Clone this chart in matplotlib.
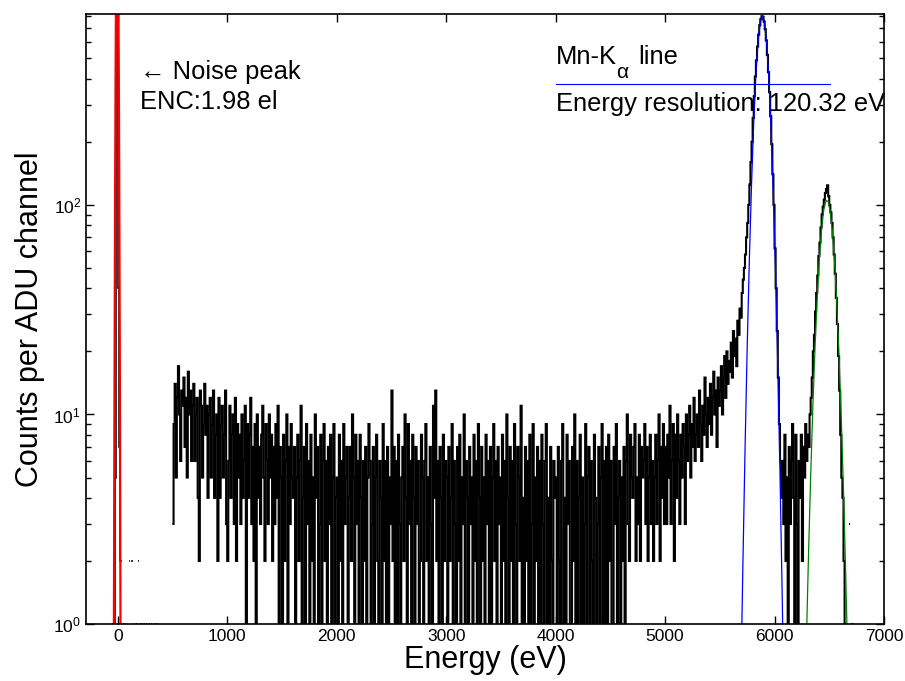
import numpy as np
import matplotlib
matplotlib.use("Agg")
from matplotlib import pyplot as plt
from matplotlib.ticker import NullLocator

## Input ------------------------------------------------------------------
bin_width = 10.0  # eV per channel
noise_start = -60.0  # centre of first bin of the noise-peak region
spec_start = 505.0  # centre of first bin of the spectrum

# counts around the noise peak (0 = empty bin), -60 eV ... 360 eV
noise_counts = [0, 1, 1, 1, 5, 800, 3000, 40, 7, 2, 0, 1, 1, 0, 1, 0, 0, 2,
                0, 2, 0, 1, 0, 1, 0, 2, 0, 1, 1, 0, 1, 0, 1, 0, 0, 1, 0, 1,
                0, 0, 1, 0, 1]

# spectrum counts, 505 eV ... 6715 eV
counts_low = [3, 9, 14, 5, 12, 17, 10, 6, 13, 11,
              15, 7, 12, 5, 16, 10, 13, 6, 11, 14,
              6, 10, 12, 4, 2, 13, 11, 5, 9, 14,
              8, 11, 4, 10, 12, 5, 9, 13, 4, 8,
              10, 2, 12, 4, 9, 11, 5, 8, 13, 3,
              2, 6, 11, 4, 8, 10, 3, 12, 2, 9,
              5, 8, 3, 10, 4, 6, 11, 1, 9, 4,
              8, 12, 3, 7, 2, 9, 1, 10, 4, 7,
              3, 8, 11, 5, 2, 9, 6, 3, 10, 5,
              8, 2, 7, 3, 9, 4, 11, 1, 7, 5,
              1, 8, 2, 6, 10, 1, 7, 3, 9, 5,
              4, 7, 1, 5, 8, 2, 6, 11, 1, 4,
              7, 1, 9, 3, 6, 1, 8, 2, 5, 1,
              10, 4, 7, 1, 3, 8, 1, 6, 9, 2,
              6, 1, 7, 3, 8, 1, 5, 9, 1, 4]
counts_mid = [5, 1, 8, 2, 6, 1, 9, 3, 5, 7,
              1, 4, 7, 2, 10, 5, 1, 8, 3, 6,
              1, 8, 4, 1, 6, 2, 7, 1, 5, 9,
              6, 1, 3, 7, 1, 5, 8, 2, 1, 6,
              4, 1, 9, 2, 6, 1, 7, 1, 5, 3,
              13, 2, 7, 1, 6, 1, 8, 3, 1, 5,
              7, 2, 10, 4, 1, 9, 3, 6, 1, 8,
              4, 1, 7, 3, 6, 1, 2, 8, 5, 1,
              6, 9, 2, 5, 1, 7, 3, 1, 11, 4,
              13, 2, 6, 1, 7, 4, 1, 8, 2, 6,
              5, 1, 7, 2, 4, 9, 1, 6, 3, 1,
              7, 2, 8, 1, 5, 3, 10, 1, 6, 4,
              1, 7, 3, 5, 1, 8, 2, 6, 1, 9,
              4, 1, 7, 2, 5, 1, 8, 3, 6, 1,
              7, 1, 5, 9, 2, 6, 1, 7, 3, 5,
              1, 8, 2, 6, 1, 10, 4, 1, 7, 2,
              6, 1, 9, 3, 1, 7, 5, 2, 11, 1,
              4, 1, 7, 2, 6, 1, 8, 1, 3, 9,
              1, 5, 2, 7, 1, 6, 1, 8, 3, 1,
              6, 9, 1, 4, 1, 7, 2, 1, 6, 4]
counts_high = [5, 1, 7, 2, 1, 6, 9, 1, 4, 1,
               8, 3, 6, 1, 1, 7, 2, 10, 1, 6,
               1, 4, 8, 1, 5, 1, 3, 9, 1, 5,
               7, 1, 6, 2, 1, 8, 4, 1, 3, 7,
               1, 5, 9, 1, 6, 1, 7, 1, 8, 2,
               6, 1, 1, 7, 3, 9, 1, 4, 6, 1,
               5, 2, 7, 1, 6, 10, 3, 2, 8, 5,
               4, 7, 9, 2, 5, 3, 8, 2, 7, 5,
               6, 9, 3, 7, 2, 5, 8, 3, 6, 2,
               5, 8, 3, 6, 10, 2, 7, 4, 9, 3,
               7, 3, 8, 5, 11, 3, 6, 9, 2, 8,
               4, 10, 6, 3, 8, 5, 9, 7, 3, 10,
               6, 8, 11, 5, 9, 7, 12, 6, 8, 10,
               7, 13, 9, 6, 11, 8, 15, 10, 7, 12,
               9, 14, 8, 12, 16, 10, 13, 7, 15, 11]
counts_ka = [13, 17, 10, 15, 19, 12, 20, 14, 18, 16,
             22, 15, 25, 19, 23, 17, 28, 24, 32, 29,
             38, 44, 50, 58, 70, 82, 100, 125, 160, 200,
             260, 330, 410, 490, 570, 650, 720, 770, 795, 790,
             750, 690, 610, 520, 430, 345, 265, 195, 140, 100,
             62, 40, 25, 15, 9, 6, 4, 6, 3, 8]
counts_kb = [2, 5, 1, 7, 3, 6, 9, 4, 1, 8,
             3, 1, 6, 4, 8, 2, 7, 5, 9, 6,
             8, 7, 10, 12, 15, 20, 24, 31, 38, 46,
             57, 66, 78, 90, 98, 106, 114, 119, 124, 110,
             100, 92, 82, 70, 58, 47, 36, 27, 19, 13,
             8, 5, 4, 2, 1, 1, 0, 0, 3, 0,
             1, 1]

# fitted curves
fit_noise_e = [-40, -35, -30, -25, -20, -15, -10, -5, 0, 5, 10, 15, 20, 25, 30]
fit_noise_y = [0.055, 1.0, 11.6, 85, 406, 1230, 2400, 3000, 2400, 1230, 406,
               85, 11.6, 1.0, 0.055]
fit_ka_e = [5690, 5710, 5730, 5750, 5770, 5790, 5810, 5830, 5850, 5870, 5890,
            5910, 5930, 5950, 5970, 5990, 6010, 6030, 6050, 6070, 6090]
fit_ka_y = [0.43, 1.81, 6.6, 20.6, 55, 126, 248, 419, 606, 752, 799, 729, 570,
            382, 220, 108, 45.8, 16.6, 5.2, 1.37, 0.31]
fit_kb_e = [6290, 6310, 6330, 6350, 6370, 6390, 6410, 6430, 6450, 6470, 6490,
            6510, 6530, 6550, 6570, 6590, 6610, 6630, 6650, 6670]
fit_kb_y = [0.78, 2.10, 5.06, 10.9, 21.0, 36.1, 55.8, 77, 95, 105, 104, 92,
            72.8, 51.6, 32.7, 18.6, 9.4, 4.3, 1.74, 0.63]

## Set up plot ------------------------------------------------------------
plt.rcParams["font.family"] = ["Liberation Sans", "DejaVu Sans"]
plt.rcParams["mathtext.fontset"] = "custom"
plt.rcParams["mathtext.rm"] = "Liberation Sans"
plt.rcParams["mathtext.it"] = "Liberation Sans:italic"
plt.rcParams["mathtext.bf"] = "Liberation Sans:bold"

W, H = 905, 681
fsize = 18.4
fig = plt.figure(figsize=(W / 100, H / 100), dpi=100)
ax = fig.add_axes([86 / W, 57 / H, 798 / W, 610 / H])


def draw_hist(start, counts, lw):
    y = np.array(counts, dtype=float)
    y[y <= 0] = np.nan  # empty channels are not drawn on a log axis
    edges = start - bin_width / 2 + bin_width * np.arange(len(y) + 1)
    ax.stairs(y, edges, baseline=None, fill=False, color="k", lw=lw)


spectrum = counts_low + counts_mid + counts_high + counts_ka + counts_kb
draw_hist(noise_start, noise_counts, 1.1)
draw_hist(spec_start, spectrum, 1.5)

ax.plot(fit_noise_e, fit_noise_y, color="red", lw=1.6)
ax.plot(fit_ka_e, fit_ka_y, color="blue", lw=0.9)
ax.plot(fit_kb_e, fit_kb_y, color="#008000", lw=0.9)

ax.set_yscale("log")
ax.set_xlim(-290, 7000)
ax.set_ylim(1, 815)
ax.set_xticks(np.arange(0, 7001, 1000))
ax.xaxis.set_minor_locator(NullLocator())
ax.tick_params(which="both", direction="in", top=True, right=True,
               labelsize=12.5, width=1)
ax.tick_params(which="major", length=6)
ax.tick_params(which="minor", length=3.5)
for s in ax.spines.values():
    s.set_linewidth(1.2)

ax.set_xlabel("Energy (eV)", fontsize=22, labelpad=1)
ax.set_ylabel("Counts per ADU channel", fontsize=22, labelpad=6)

## Annotations ------------------------------------------------------------
def fx(px):
    return (px - 86) / 798


def fy(py):
    return (624 - py) / 610


ax.text(fx(140), fy(79), "\u2190 Noise peak", transform=ax.transAxes,
        fontsize=fsize, va="baseline")
ax.text(fx(140), fy(109), "ENC:1.98 el", transform=ax.transAxes,
        fontsize=fsize, va="baseline")
ax.text(fx(556), fy(64), "Mn-K", transform=ax.transAxes,
        fontsize=fsize, va="baseline")
ax.text(fx(616), fy(78), "\u03b1", transform=ax.transAxes,
        fontsize=15, va="baseline")
ax.text(fx(638), fy(64), "line", transform=ax.transAxes,
        fontsize=fsize, va="baseline")
ax.plot([fx(556), fx(830)], [fy(84), fy(84)], transform=ax.transAxes,
        color="blue", lw=0.8, clip_on=False)
ax.text(fx(556), fy(111), "Energy resolution: 120.32 eV", transform=ax.transAxes,
        fontsize=fsize, va="baseline")

fig.savefig("out.png", dpi=100)
